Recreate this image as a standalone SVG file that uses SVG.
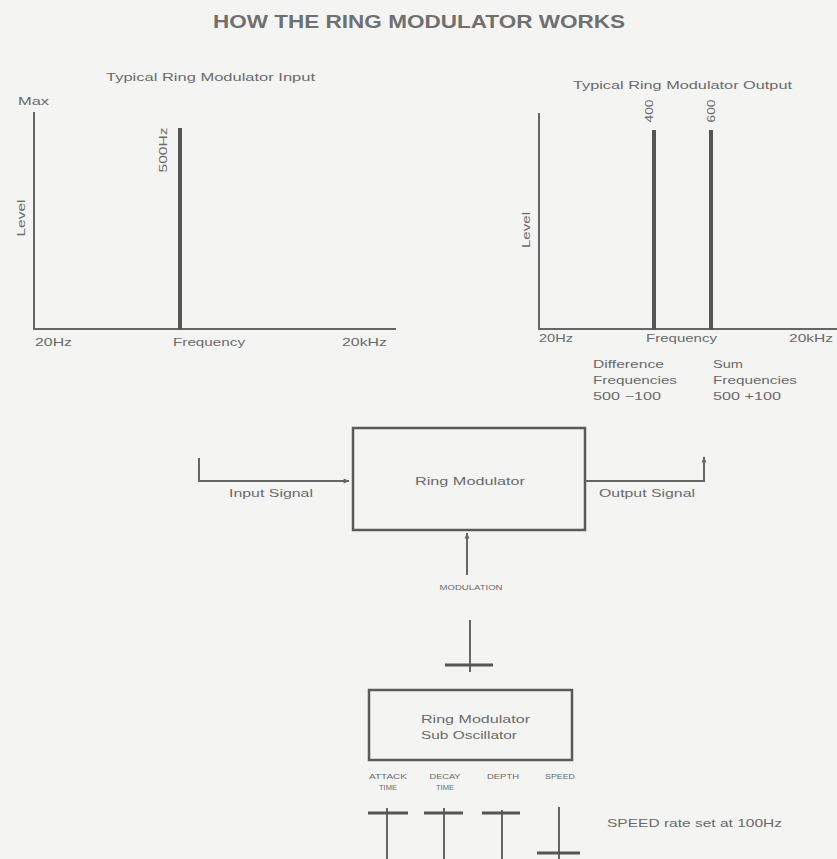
<svg xmlns="http://www.w3.org/2000/svg" width="837" height="859" viewBox="0 0 837 859">
<defs>
<style>
.t{font-family:"Liberation Sans",Arial,sans-serif;fill:#6a6a6a;font-size:10.5px}
.s{font-size:6.5px}
.m{font-size:11px}
.ln{stroke:#666;stroke-width:2;fill:none}
.sp{stroke:#555;stroke-width:4;fill:none}
.bar{stroke:#555;stroke-width:3;fill:none}
.box{stroke:#5a5a5a;stroke-width:2.5;fill:none}
</style>
<marker id="ah" viewBox="0 0 10 10" refX="9" refY="5" markerWidth="7" markerHeight="6" orient="auto" markerUnits="userSpaceOnUse">
<path d="M0,1 L10,5 L0,9 Z" fill="#666"/>
</marker>
</defs>
<rect width="837" height="859" fill="#f4f4f3"/>

<text class="t" x="213" y="28" font-weight="bold" textLength="412" lengthAdjust="spacingAndGlyphs" style="font-size:19px;fill:#707070">HOW THE RING MODULATOR WORKS</text>

<g id="input-chart">
<text class="t" x="106" y="81" textLength="209" lengthAdjust="spacingAndGlyphs">Typical Ring Modulator Input</text>
<text class="t" x="18" y="105" textLength="31" lengthAdjust="spacingAndGlyphs">Max</text>
<path class="ln" d="M34,112 V329 H396"/>
<line class="sp" x1="180" y1="128" x2="180" y2="330"/>
<text class="t" transform="translate(167,150) rotate(-90)" text-anchor="middle" textLength="45" lengthAdjust="spacingAndGlyphs">500Hz</text>
<text class="t" transform="translate(25,218) rotate(-90)" text-anchor="middle" textLength="37" lengthAdjust="spacingAndGlyphs">Level</text>
<text class="t" x="35" y="346" textLength="37" lengthAdjust="spacingAndGlyphs">20Hz</text>
<text class="t" x="173" y="346" textLength="72" lengthAdjust="spacingAndGlyphs">Frequency</text>
<text class="t" x="342" y="346" textLength="45" lengthAdjust="spacingAndGlyphs">20kHz</text>
</g>

<g id="output-chart">
<text class="t" x="573" y="89" textLength="219" lengthAdjust="spacingAndGlyphs">Typical Ring Modulator Output</text>
<path class="ln" d="M539,113 V329 H837"/>
<line class="sp" x1="654" y1="130" x2="654" y2="330"/>
<line class="sp" x1="711" y1="130" x2="711" y2="330"/>
<text class="t" transform="translate(653,111) rotate(-90)" text-anchor="middle" textLength="23" lengthAdjust="spacingAndGlyphs">400</text>
<text class="t" transform="translate(715,111) rotate(-90)" text-anchor="middle" textLength="23" lengthAdjust="spacingAndGlyphs">600</text>
<text class="t" transform="translate(530,230) rotate(-90)" text-anchor="middle" textLength="36" lengthAdjust="spacingAndGlyphs">Level</text>
<text class="t" x="539" y="342" textLength="34" lengthAdjust="spacingAndGlyphs">20Hz</text>
<text class="t" x="646" y="342" textLength="71" lengthAdjust="spacingAndGlyphs">Frequency</text>
<text class="t" x="789" y="342" textLength="44" lengthAdjust="spacingAndGlyphs">20kHz</text>
<text class="t" x="593" y="368" textLength="71" lengthAdjust="spacingAndGlyphs">Difference</text>
<text class="t" x="593" y="384" textLength="84" lengthAdjust="spacingAndGlyphs">Frequencies</text>
<text class="t" x="593" y="400" textLength="68" lengthAdjust="spacingAndGlyphs">500 −100</text>
<text class="t" x="713" y="368" textLength="30" lengthAdjust="spacingAndGlyphs">Sum</text>
<text class="t" x="713" y="384" textLength="84" lengthAdjust="spacingAndGlyphs">Frequencies</text>
<text class="t" x="713" y="400" textLength="68" lengthAdjust="spacingAndGlyphs">500 +100</text>
</g>

<g id="ring-modulator">
<rect class="box" x="353" y="428" width="232" height="102"/>
<text class="t m" x="415" y="485" textLength="110" lengthAdjust="spacingAndGlyphs">Ring Modulator</text>
</g>

<g id="sub-oscillator">
<rect class="box" x="369" y="690" width="203" height="70"/>
<text class="t m" x="421" y="723" textLength="109" lengthAdjust="spacingAndGlyphs">Ring Modulator</text>
<text class="t m" x="421" y="739" textLength="96" lengthAdjust="spacingAndGlyphs">Sub Oscillator</text>
</g>

<g id="controls">
<text class="t s" x="388" y="779" text-anchor="middle" textLength="38" lengthAdjust="spacingAndGlyphs">ATTACK</text>
<text class="t s" x="388" y="790" text-anchor="middle" textLength="18" lengthAdjust="spacingAndGlyphs">TIME</text>
<text class="t s" x="445" y="779" text-anchor="middle" textLength="31" lengthAdjust="spacingAndGlyphs">DECAY</text>
<text class="t s" x="445" y="790" text-anchor="middle" textLength="18" lengthAdjust="spacingAndGlyphs">TIME</text>
<text class="t s" x="503" y="779" text-anchor="middle" textLength="32" lengthAdjust="spacingAndGlyphs">DEPTH</text>
<text class="t s" x="560" y="779" text-anchor="middle" textLength="30" lengthAdjust="spacingAndGlyphs">SPEED</text>
<line class="ln" x1="387" y1="808" x2="387" y2="859"/>
<line class="bar" x1="368" y1="813" x2="408" y2="813"/>
<line class="ln" x1="444" y1="808" x2="444" y2="859"/>
<line class="bar" x1="424" y1="813" x2="463" y2="813"/>
<line class="ln" x1="502" y1="810" x2="502" y2="859"/>
<line class="bar" x1="482" y1="813" x2="520" y2="813"/>
<line class="ln" x1="559" y1="807" x2="559" y2="859"/>
<line class="bar" x1="537" y1="853" x2="580" y2="853"/>
<text class="t m" x="607" y="827" textLength="175" lengthAdjust="spacingAndGlyphs">SPEED rate set at 100Hz</text>
</g>

<g id="connectors">
<path class="ln" d="M199,458 V481 H349" marker-end="url(#ah)"/>
<text class="t m" x="271" y="497" text-anchor="middle" textLength="84" lengthAdjust="spacingAndGlyphs">Input Signal</text>
<path class="ln" d="M585,481 H704 V457" marker-end="url(#ah)"/>
<text class="t m" x="647" y="497" text-anchor="middle" textLength="96" lengthAdjust="spacingAndGlyphs">Output Signal</text>
<line class="ln" x1="467" y1="575" x2="467" y2="533" marker-end="url(#ah)"/>
<text class="t s" x="471" y="590" text-anchor="middle" textLength="63" lengthAdjust="spacingAndGlyphs">MODULATION</text>
<line class="ln" x1="470" y1="620" x2="470" y2="672"/>
<line class="bar" x1="445" y1="665" x2="493" y2="665"/>
</g>
</svg>
